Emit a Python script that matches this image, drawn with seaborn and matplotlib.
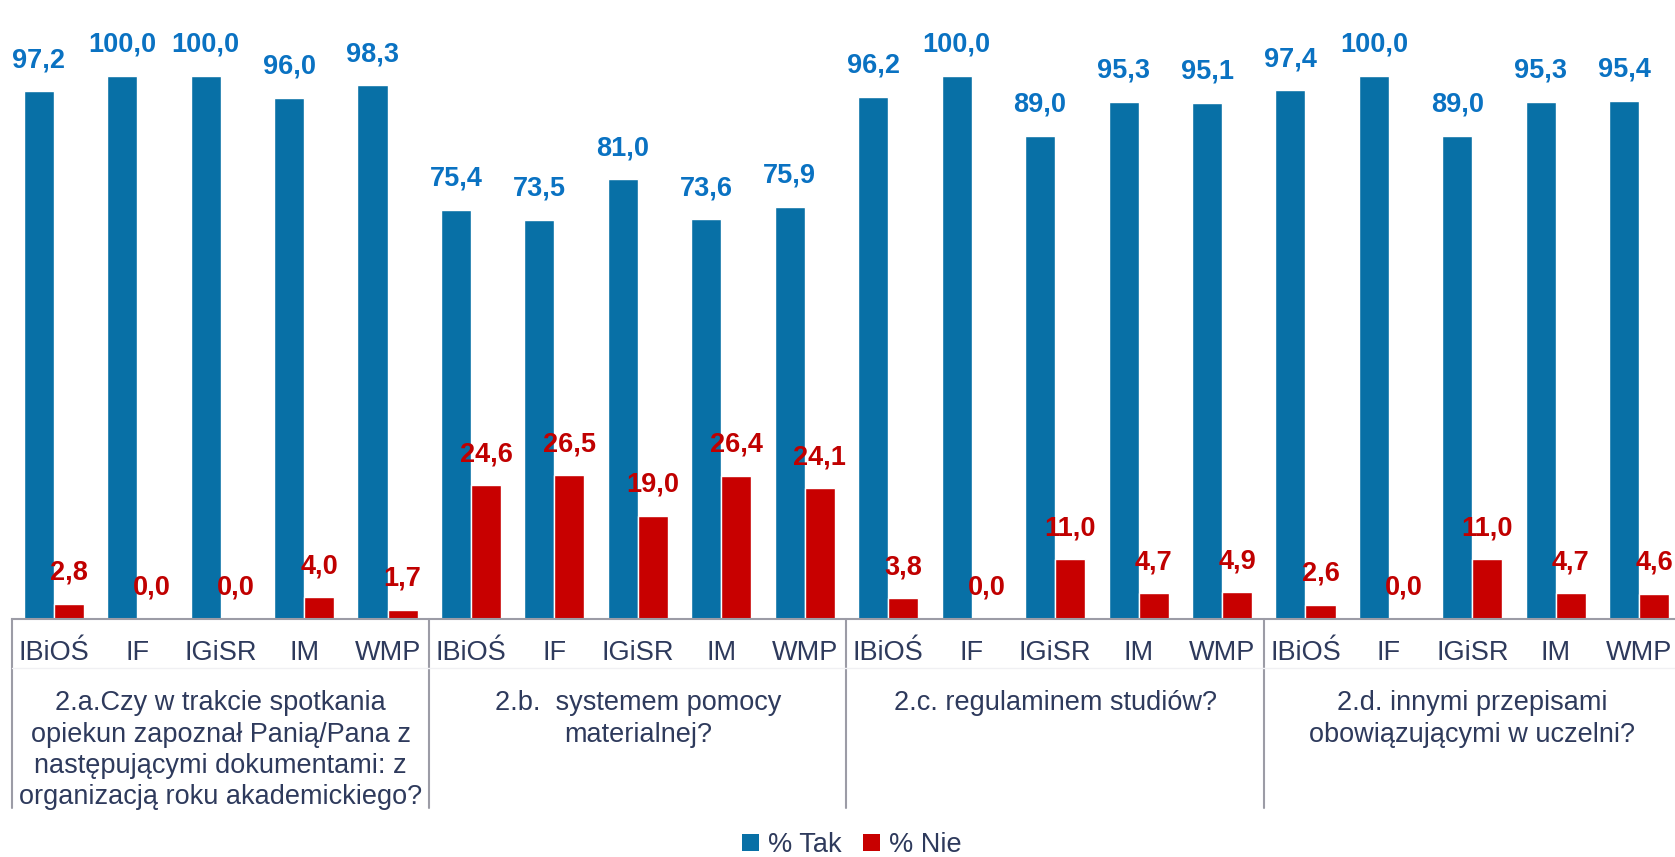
import matplotlib
matplotlib.use("Agg")
import matplotlib.pyplot as plt
from matplotlib.patches import Patch
import pandas as pd
import seaborn as sns

# data
groups = [
    "2.a.Czy w trakcie spotkania\nopiekun zapoznał Panią/Pana z\nnastępującymi dokumentami: z\norganizacją roku akademickiego?",
    "2.b.  systemem pomocy\nmaterialnej?",
    "2.c. regulaminem studiów?",
    "2.d. innymi przepisami\nobowiązującymi w uczelni?",
]
units = ["IBiOŚ", "IF", "IGiSR", "IM", "WMP"]
tak = [97.2, 100.0, 100.0, 96.0, 98.3,
       75.4, 73.5, 81.0, 73.6, 75.9,
       96.2, 100.0, 89.0, 95.3, 95.1,
       97.4, 100.0, 89.0, 95.3, 95.4]
nie = [2.8, 0.0, 0.0, 4.0, 1.7,
       24.6, 26.5, 19.0, 26.4, 24.1,
       3.8, 0.0, 11.0, 4.7, 4.9,
       2.6, 0.0, 11.0, 4.7, 4.6]
series = ["% Tak", "% Nie"]

BAR_COLORS = {"% Tak": "#0870A6", "% Nie": "#C80000"}
LABEL_COLORS = {"% Tak": "#0A72C2", "% Nie": "#C00000"}
TEXT_COLOR = "#2E3A5C"
LINE_COLOR = "#9C9CA6"
FS = 19.5

keys = [f"{g}|{u}" for g in range(len(groups)) for u in units]
df = pd.DataFrame({
    "key": keys * 2,
    "series": [series[0]] * len(keys) + [series[1]] * len(keys),
    "value": tak + nie,
})

sns.set_theme(style="white")
plt.rcParams["font.family"] = ["Liberation Sans", "DejaVu Sans"]

W, H = 1675, 857
fig = plt.figure(figsize=(W / 100, H / 100), dpi=100)
base_y = 619
ax = fig.add_axes([12 / W, (H - base_y) / H, 1669 / W, base_y / H])

sns.barplot(data=df, x="key", y="value", hue="series", order=keys,
            hue_order=series, palette=BAR_COLORS, width=0.72,
            saturation=1, legend=False, ax=ax)

ax.set_xlim(-0.5, len(keys) - 0.5)
ax.set_ylim(0, 114)
ax.set_xlabel("")
ax.set_ylabel("")
ax.set_yticks([])
for s in ["left", "top", "right"]:
    ax.spines[s].set_visible(False)
ax.spines["bottom"].set_color(LINE_COLOR)
ax.spines["bottom"].set_linewidth(1.5)

ax.set_xticks(range(len(keys)))
ax.set_xticklabels(units * len(groups), fontsize=FS, color=TEXT_COLOR)
ax.tick_params(axis="x", length=0, pad=15)

# value labels
for cont, name in zip(ax.containers, series):
    labels = [f"{v:.1f}".replace(".", ",") for v in cont.datavalues]
    ax.bar_label(cont, labels=labels, padding=13, fontsize=FS,
                 fontweight="bold", color=LABEL_COLORS[name])

trans = ax.get_xaxis_transform()
# group labels
for i, g in enumerate(groups):
    ax.text(i * 5 + 2, -0.115, g, transform=trans, ha="center", va="top",
            fontsize=FS, color=TEXT_COLOR, linespacing=1.27)

# separators of the category axis
for x in [-0.5, 4.5, 9.5, 14.5, 19.5]:
    ax.plot([x, x], [0, -0.305], transform=trans, color=LINE_COLOR,
            lw=1.5, clip_on=False)
ax.plot([-0.5, 19.5], [-0.079, -0.079], transform=trans, color="#F0F0F3",
        lw=1, clip_on=False)

handles = [Patch(facecolor=BAR_COLORS[s], edgecolor="none", label=s) for s in series]
leg = fig.legend(handles=handles, loc="center", ncol=2, frameon=False,
                 bbox_to_anchor=(852 / W, 1 - 845 / H), fontsize=FS,
                 handlelength=0.6, handleheight=0.6, handletextpad=0.35,
                 columnspacing=0.8)
for t in leg.get_texts():
    t.set_color(TEXT_COLOR)

fig.savefig("out.png", dpi=100)
plt.close(fig)
